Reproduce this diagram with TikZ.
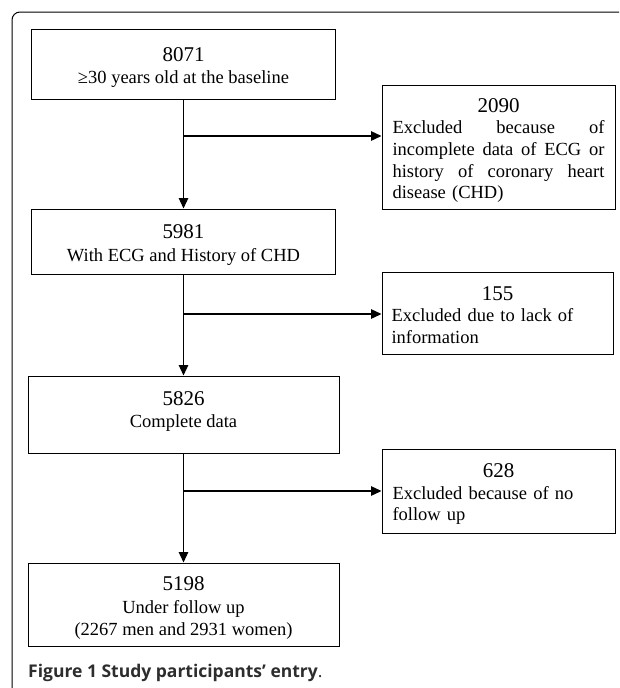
\documentclass[tikz,border=0pt]{standalone}
\usepackage{fontspec}
\setmainfont{Liberation Serif}
\newfontfamily\capfont{Open Sans}
\usetikzlibrary{arrows.meta,positioning,calc}
\definecolor{capgray}{RGB}{45,45,45}
\newcommand{\num}[1]{{\fontsize{21}{23}\selectfont #1}}
\newcommand{\fillline}[1]{\leavevmode\hbox to 212pt{#1}}

\begin{document}
\begin{tikzpicture}[x=1pt, y=-1pt,
  box/.style={draw, line width=1pt, inner sep=0pt},
  maintext/.style={align=center, inner sep=0pt, font=\fontsize{18.5}{22.5}\selectfont},
  extext/.style={align=left, text width=212pt, inner sep=0pt, font=\fontsize{18.5}{21.7}\selectfont},
  flow/.style={line width=1.3pt, -{Triangle[length=10.5pt,width=9.5pt]}}]
  \useasboundingbox (0,0) rectangle (619,688);
  % frame
  \draw[line width=1pt, rounded corners=8pt] (619,12) -- (12,12) -- (12,688);
  % main column
  \node[box, minimum width=304pt, minimum height=70pt,
    label={[maintext, yshift=-3.5pt]center:{\num{8071}\\≥30 years old at the baseline}}] (n8071) at (183.5,64) {};
  \node[box, minimum width=304pt, minimum height=65pt,
    label={[maintext, yshift=-3.5pt]center:{\num{5981}\\With ECG and History of CHD}}] (n5981) at (183.5,241.5) {};
  \node[box, minimum width=311pt, minimum height=77pt,
    label={[maintext, yshift=3pt]center:{\num{5826}\\Complete data}}] (n5826) at (183.5,414.5) {};
  \node[box, minimum width=311pt, minimum height=83pt,
    label={[maintext, yshift=-3.5pt]center:{\num{5198}\\Under follow up\\(2267 men and 2931 women)}}] (n5198) at (183.5,604.5) {};
  % exclusions
  \node[box, minimum width=233pt, minimum height=124pt,
    label={[extext, yshift=-3.5pt]center:{\fillline{\hfil\num{2090}\hfil}\\
    \fillline{Excluded\hfill because\hfill of}\\
    \fillline{incomplete\hfill data\hfill of\hfill ECG\hfill or}\\
    \fillline{history\hfill of\hfill coronary\hfill heart}\\
    disease (CHD)}}] (ex2090) at (498.5,147) {};
  \node[box, minimum width=231pt, minimum height=82pt,
    label={[extext, yshift=-2pt]center:{\fillline{\hfil\num{155}\hfil}\\Excluded due to lack of\\information}}] (ex155) at (497.5,313) {};
  \node[box, minimum width=233pt, minimum height=84pt,
    label={[extext, yshift=-3pt]center:{\fillline{\hfil\num{628}\hfil}\\Excluded because of no\\follow up}}] (ex628) at (498.5,491) {};
  % branch points
  \coordinate (b1) at (183.5,136);
  \coordinate (b2) at (183.5,314);
  \coordinate (b3) at (183.5,491);
  \draw[flow] (n8071) -- (n5981);
  \draw[flow] (n5981) -- (n5826);
  \draw[flow] (n5826) -- (n5198);
  \draw[flow] (b1) -- (b1 -| ex2090.west);
  \draw[flow] (b2) -- (b2 -| ex155.west);
  \draw[flow] (b3) -- (b3 -| ex628.west);
  % caption
  \node[anchor=base west, inner sep=0pt, text=capgray, font=\capfont\fontsize{17.5}{20}\selectfont] (cap) at (28,677) {\textbf{Figure 1 Study participants’ entry}.};
\end{tikzpicture}
\end{document}
